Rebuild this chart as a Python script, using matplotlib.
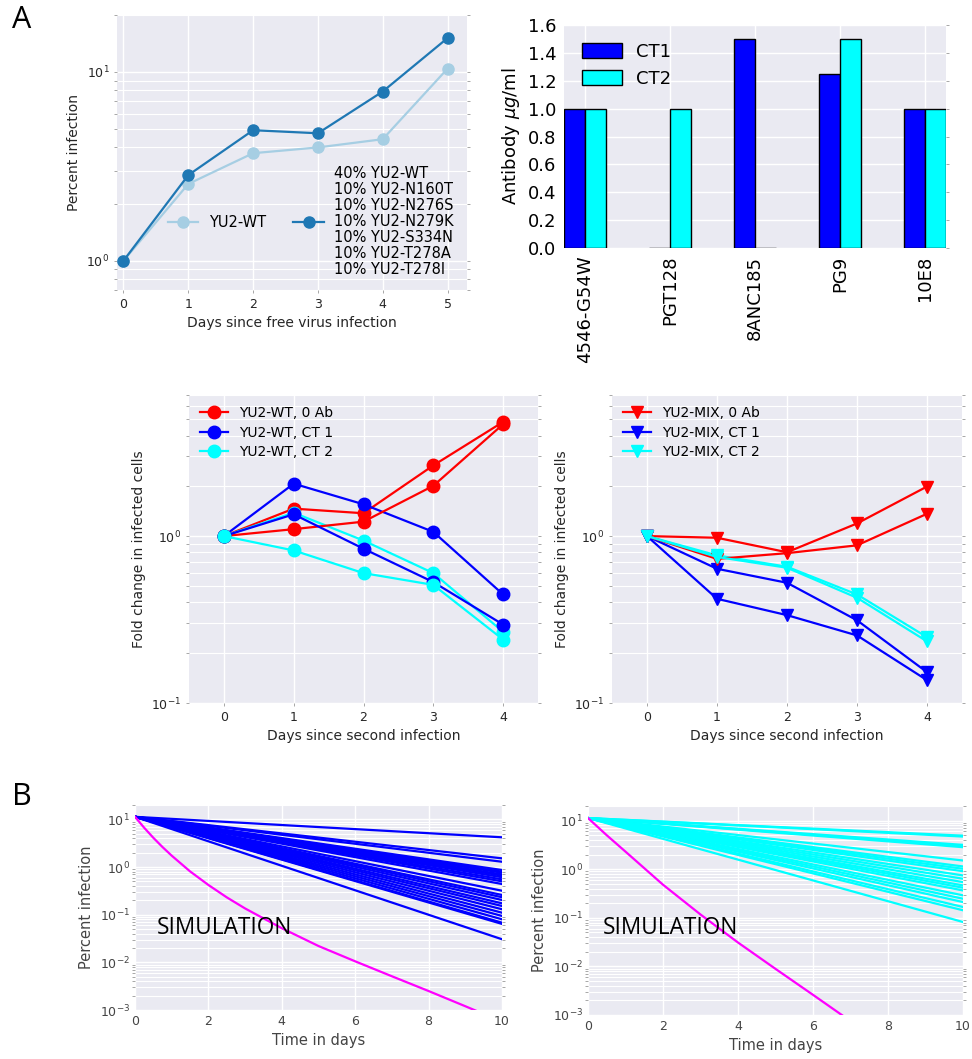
import numpy as np
import matplotlib
matplotlib.use("Agg")
import matplotlib.pyplot as plt
from matplotlib.ticker import LogLocator, NullFormatter

# ---------------- data ----------------
days_free = [0, 1, 2, 3, 4, 5]
wt_free = [1.0, 2.55, 3.71, 3.98, 4.4, 10.4]
mix_free = [1.0, 2.84, 4.91, 4.73, 7.87, 15.1]
mix_label = "40% YU2-WT\n10% YU2-N160T\n10% YU2-N276S\n10% YU2-N279K\n10% YU2-S334N\n10% YU2-T278A\n10% YU2-T278I"

antibodies = ['4546-G54W', 'PGT128', '8ANC185', 'PG9', '10E8']
ct1_conc = [1.0, 0.0, 1.5, 1.25, 1.0]
ct2_conc = [1.0, 1.0, 0.0, 1.5, 1.0]

days_second = [0, 1, 2, 3, 4]
wt_0ab_a = [1.0, 1.46, 1.37, 2.65, 4.83]
wt_0ab_b = [1.0, 1.10, 1.22, 2.0, 4.68]
wt_ct1_a = [1.0, 2.06, 1.55, 1.06, 0.447]
wt_ct1_b = [1.0, 1.35, 0.84, 0.53, 0.295]
wt_ct2_a = [1.0, 1.38, 0.94, 0.60, 0.267]
wt_ct2_b = [1.0, 0.82, 0.60, 0.51, 0.24]

mix_0ab_a = [1.0, 0.977, 0.80, 1.19, 1.98]
mix_0ab_b = [1.0, 0.73, 0.79, 0.88, 1.36]
mix_ct1_a = [1.0, 0.637, 0.525, 0.313, 0.153]
mix_ct1_b = [1.0, 0.421, 0.336, 0.254, 0.137]
mix_ct2_a = [1.0, 0.766, 0.655, 0.447, 0.248]
mix_ct2_b = [1.0, 0.75, 0.646, 0.427, 0.234]

sim_t_ends = [0, 10]
sim_start = 11.3
sim_ct1_end = [4.2, 1.52, 1.29, 0.865, 0.80, 0.76, 0.70, 0.66, 0.61, 0.55, 0.50,
               0.44, 0.318, 0.259, 0.232, 0.203, 0.173, 0.152, 0.13, 0.11, 0.094,
               0.080, 0.068, 0.064, 0.0305]
sim_ct2_end = [4.9, 4.7, 3.17, 3.0, 2.84, 1.51, 1.14, 1.02, 0.91, 0.745, 0.637, 0.543,
               0.464, 0.416, 0.366, 0.29, 0.247, 0.211, 0.167, 0.143, 0.082]
single_t1 = [0, 0.25, 0.5, 0.75, 1, 1.5, 2, 2.5, 3, 4, 5, 6, 7, 8, 9, 10]
single_v1 = [11.3, 6.67, 4.1, 2.62, 1.73, 0.81, 0.42, 0.231, 0.135, 0.052, 0.022, 0.0105,
             0.0051, 0.0025, 0.0012, 0.00057]
single_t2 = [0, 0.5, 1, 2, 3, 4, 5, 6, 7]
single_v2 = [11.3, 5.0, 2.3, 0.48, 0.117, 0.031, 0.0089, 0.0026, 0.00075]

# ---------------- figure ----------------
W, H = 972, 1059
fig = plt.figure(figsize=(W / 100, H / 100), dpi=100)
BG = '#EAEAF2'
TXT = '#262626'


def add_ax(l, r, t, b):
    return fig.add_axes([l / W, 1 - b / H, (r - l) / W, (b - t) / H])


def style(ax, minor_grid=True, tickcol='#999999'):
    ax.set_facecolor(BG)
    for s in ax.spines.values():
        s.set_visible(False)
    ax.set_axisbelow(True)
    ax.grid(True, which='major', color='white', lw=1.0)
    if minor_grid:
        ax.grid(True, which='minor', axis='y', color='white', lw=0.8)
    ax.tick_params(which='both', length=2, width=0.6, color=tickcol,
                   labelcolor=TXT, left=True, right=True, bottom=True, top=False)


# ---- top-left ----
ax1 = add_ax(117, 467, 15, 290)
style(ax1)
ax1.set_yscale('log')
ax1.plot(days_free, wt_free, '-o', color='#a6cee3', lw=1.6, ms=8, label='YU2-WT')
ax1.plot(days_free, mix_free, '-o', color='#1f78b4', lw=1.6, ms=8, label=mix_label)
ax1.set_xlim(-0.1, 5.3)
ax1.set_ylim(0.7, 20)
ax1.set_xticks(days_free)
ax1.yaxis.set_minor_formatter(NullFormatter())
ax1.tick_params(labelsize=9)
ax1.set_xlabel('Days since free virus infection', fontsize=10, color=TXT)
ax1.set_ylabel('Percent infection', fontsize=10, color=TXT)
leg1 = ax1.legend(loc='lower right', bbox_to_anchor=(1.0, 0.0), ncol=2, frameon=False,
                  fontsize=10.5, handlelength=2.1, columnspacing=1.9, handletextpad=0.7,
                  labelspacing=0.1)
for t in leg1.get_texts():
    t.set_linespacing(1.08)

# ---- top-right bars ----
ax2 = add_ax(564, 946, 25, 248)
style(ax2, minor_grid=False)
x = np.arange(len(antibodies))
ax2.bar(x, ct1_conc, width=0.25, align='edge', color='blue', edgecolor='black', lw=1, label='CT1')
ax2.bar(x + 0.25, ct2_conc, width=0.25, align='edge', color='cyan', edgecolor='black', lw=1, label='CT2')
ax2.set_xlim(0, 4.5)
ax2.set_ylim(0, 1.6)
ax2.set_yticks(np.arange(0, 1.61, 0.2))
ax2.set_xticks(x + 0.25)
ax2.set_xticklabels(antibodies, rotation=90)
ax2.tick_params(labelsize=13, labelcolor='black', length=2, color='#999999', left=False, bottom=False)
ax2.set_ylabel(r'Antibody $\mu g$/ml', fontsize=13, color='black')
ax2.legend(loc='upper left', frameon=False, fontsize=13, handlelength=2.2, handleheight=0.9,
           borderaxespad=0.6, labelspacing=0.5)

# ---- middle-left ----
ax3 = add_ax(189, 538, 395, 703)
style(ax3)
ax3.set_yscale('log')
ax3.plot(days_second, wt_0ab_a, '-o', color='red', lw=1.6, ms=9, label='YU2-WT, 0 Ab')
ax3.plot(days_second, wt_ct1_a, '-o', color='blue', lw=1.6, ms=9, label='YU2-WT, CT 1')
ax3.plot(days_second, wt_ct2_a, '-o', color='cyan', lw=1.6, ms=9, label='YU2-WT, CT 2')
ax3.plot(days_second, wt_0ab_b, '-o', color='red', lw=1.6, ms=9)
ax3.plot(days_second, wt_ct1_b, '-o', color='blue', lw=1.6, ms=9)
ax3.plot(days_second, wt_ct2_b, '-o', color='cyan', lw=1.6, ms=9)
ax3.set_xlim(-0.5, 4.5)
ax3.set_ylim(0.1, 7)
ax3.set_xticks(days_second)
ax3.yaxis.set_minor_formatter(NullFormatter())
ax3.tick_params(labelsize=9)
ax3.set_xlabel('Days since second infection', fontsize=10, color=TXT)
ax3.set_ylabel('Fold change in infected cells', fontsize=10, color=TXT)
ax3.legend(loc='upper left', frameon=False, fontsize=10, handlelength=2.0, labelspacing=0.4,
           borderaxespad=0.4)

# ---- middle-right ----
ax4 = add_ax(612, 962, 395, 703)
style(ax4)
ax4.set_yscale('log')
ax4.plot(days_second, mix_0ab_a, '-v', color='red', lw=1.6, ms=9, label='YU2-MIX, 0 Ab')
ax4.plot(days_second, mix_ct1_a, '-v', color='blue', lw=1.6, ms=9, label='YU2-MIX, CT 1')
ax4.plot(days_second, mix_ct2_a, '-v', color='cyan', lw=1.6, ms=9, label='YU2-MIX, CT 2')
ax4.plot(days_second, mix_0ab_b, '-v', color='red', lw=1.6, ms=9)
ax4.plot(days_second, mix_ct1_b, '-v', color='blue', lw=1.6, ms=9)
ax4.plot(days_second, mix_ct2_b, '-v', color='cyan', lw=1.6, ms=9)
ax4.set_xlim(-0.5, 4.5)
ax4.set_ylim(0.1, 7)
ax4.set_xticks(days_second)
ax4.yaxis.set_minor_formatter(NullFormatter())
ax4.tick_params(labelsize=9)
ax4.set_xlabel('Days since second infection', fontsize=10, color=TXT)
ax4.set_ylabel('Fold change in infected cells', fontsize=10, color=TXT)
ax4.legend(loc='upper left', frameon=False, fontsize=10, handlelength=2.0, labelspacing=0.4,
           borderaxespad=0.4)


# ---- bottom ----
def sim_panel(ax, ends, color, t_single, v_single, tx, ty):
    style(ax)
    ax.tick_params(length=0)
    ax.set_yscale('log')
    for e in ends:
        ax.plot(sim_t_ends, [sim_start, e], color=color, lw=1.6)
    ax.plot(t_single, v_single, color='magenta', lw=1.6)
    ax.set_xlim(0, 10)
    ax.set_ylim(1e-3, 20)
    ax.set_xticks([0, 2, 4, 6, 8, 10])
    ax.yaxis.set_major_locator(LogLocator(base=10, numticks=10))
    ax.yaxis.set_minor_locator(LogLocator(base=10, subs=np.arange(2, 10), numticks=20))
    ax.yaxis.set_minor_formatter(NullFormatter())
    ax.tick_params(labelsize=9, labelcolor='#444444')
    ax.set_xlabel('Time in days', fontsize=10.5, color='#444444')
    ax.set_ylabel('Percent infection', fontsize=10.5, color='#444444')
    ax.text(tx, ty, 'SIMULATION', transform=ax.transAxes, fontsize=16.3,
            family='Open Sans', color='black', va='center')


ax5 = add_ax(135, 502, 805, 1010)
sim_panel(ax5, sim_ct1_end, 'blue', single_t1, single_v1, 0.06, 0.40)
ax6 = add_ax(588, 963, 806, 1015)
sim_panel(ax6, sim_ct2_end, 'cyan', single_t2, single_v2, 0.04, 0.416)

fig.text(22 / W, 1 - 20 / H, 'A', fontsize=22, family='Open Sans', ha='center', va='center')
fig.text(22 / W, 1 - 797 / H, 'B', fontsize=22, family='Open Sans', ha='center', va='center')

fig.savefig('out.png', dpi=100, facecolor='white')
